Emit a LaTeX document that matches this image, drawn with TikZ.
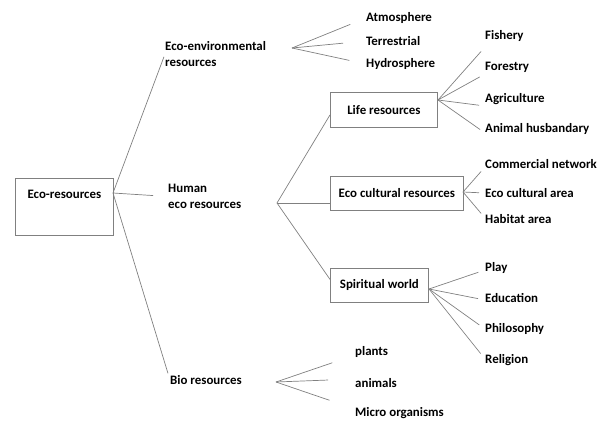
\documentclass[tikz,border=0pt]{standalone}
\usepackage{fontspec}
\setmainfont{Carlito}
\colorlet{linegray}{black!50}

\begin{document}
\begin{tikzpicture}[x=1pt,y=-1pt,
  every node/.style={font=\bfseries\fontsize{12.9}{16}\selectfont},
  item/.style={anchor=west,inner sep=0,align=left},
  box/.style={draw=linegray,line width=0.8pt,anchor=north west,inner sep=0},
  link/.style={draw=linegray,line width=0.7pt}]
\useasboundingbox (0,0) rectangle (606,421);
% root and first level
\node[box,minimum width=98,text height=20pt,text depth=37pt] (ecores) at (15,178) {Eco-resources};
\coordinate (rootfan) at (113,193);
\node[item] (ecoenv) at (165,54) {Eco-environmental\\resources};
\node[item] (human) at (168,196.5) {Human\\eco resources};
\node[item] (bio) at (170,380) {Bio resources};
\draw[link,shorten >=3pt] (rootfan) -- (ecoenv.west);
\draw[link,shorten >=15pt] (rootfan) -- (human.west);
\draw[link,shorten >=7pt] (rootfan) -- (bio.west);
% eco-environmental
\coordinate (envfan) at (292,48);
\node[item] (atmos) at (366,18) {Atmosphere};
\node[item] (terr) at (366,41) {Terrestrial};
\node[item] (hydro) at (366,64) {Hydrosphere};
\draw[link,shorten >=17pt] (envfan) -- (atmos.west);
\draw[link,shorten >=23pt] (envfan) -- (terr.west);
\draw[link,shorten >=17pt] (envfan) -- (hydro.west);
% human eco resources
\coordinate (humfan) at (277,203);
\node[box,minimum width=107,minimum height=35] (life) at (330,92) {Life resources};
\node[box,minimum width=133,minimum height=34] (culture) at (330,176) {Eco cultural resources};
\node[box,minimum width=98,minimum height=34] (spirit) at (330,268) {Spiritual world};
\draw[link] (humfan) -- ([yshift=-5pt]life.west);
\draw[link] (humfan) -- (culture.west |- humfan);
\draw[link] (humfan) -- ([yshift=6pt]spirit.west);
% life resources
\coordinate (lifefan) at (438,100);
\node[item] (fishery) at (485,36) {Fishery};
\node[item] (forestry) at (485,67) {Forestry};
\node[item] (agri) at (485,99) {Agriculture};
\node[item] (animal) at (485,129) {Animal husbandary};
\draw[link,shorten >=6pt] (lifefan) -- ([yshift=-11pt]fishery.west);
\draw[link,shorten >=6pt] (lifefan) -- ([yshift=-7pt]forestry.west);
\draw[link,shorten >=6pt] (lifefan) -- ([yshift=-7pt]agri.west);
\draw[link,shorten >=6pt] (lifefan) -- ([yshift=-4pt]animal.west);
% eco cultural resources
\coordinate (culfan) at (463,192);
\node[item] (commerce) at (485,164) {Commercial network};
\node[item] (ecoarea) at (485,193) {Eco cultural area};
\node[item] (habitat) at (485,219) {Habitat area};
\draw[link,shorten >=6pt] (culfan) -- ([yshift=-3pt]commerce.west);
\draw[link,shorten >=6pt] (culfan) -- (ecoarea.west);
\draw[link,shorten >=6pt] (culfan) -- ([yshift=1pt]habitat.west);
% spiritual world
\coordinate (spifan) at (429,289);
\node[item] (play) at (485,268) {Play};
\node[item] (edu) at (485,298) {Education};
\node[item] (philo) at (485,329) {Philosophy};
\node[item] (religion) at (485,360) {Religion};
\draw[link,shorten >=7pt] (spifan) -- ([yshift=-2pt]play.west);
\draw[link,shorten >=7pt] (spifan) -- ([yshift=-2pt]edu.west);
\draw[link,shorten >=7pt] (spifan) -- (philo.west);
\draw[link,shorten >=7pt] (spifan) -- ([yshift=1pt]religion.west);
% bio resources
\coordinate (biofan) at (276,382);
\node[item] (plants) at (355,352) {plants};
\node[item] (animals) at (355,383) {animals};
\node[item] (micro) at (355,413) {Micro organisms};
\draw[link,shorten >=24pt] (biofan) -- ([yshift=-3pt]plants.west);
\draw[link,shorten >=27pt] (biofan) -- ([yshift=4pt]animals.west);
\draw[link,shorten >=27pt] (biofan) -- ([yshift=4pt]micro.west);
\end{tikzpicture}
\end{document}
